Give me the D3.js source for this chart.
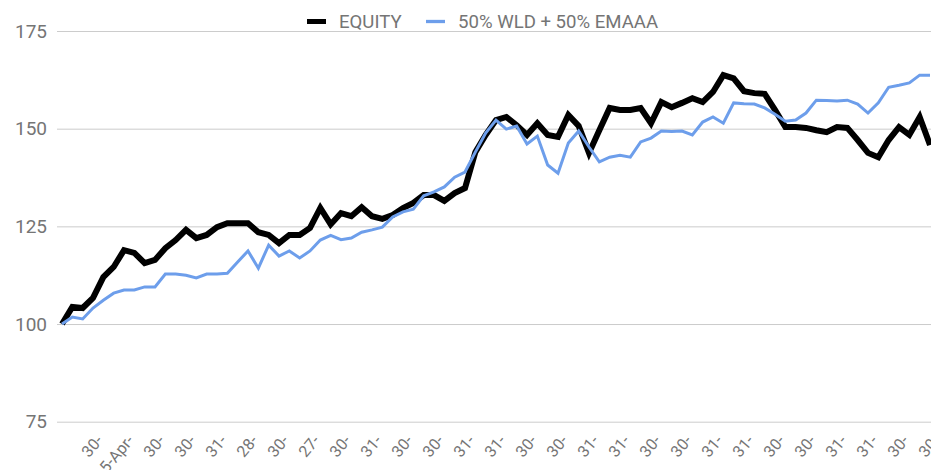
<!DOCTYPE html>
<html>
<head>
<meta charset="utf-8">
<script src="https://cdn.jsdelivr.net/npm/d3@7"></script>
<style>
  html, body { margin: 0; padding: 0; background: #fff; overflow: hidden; }
  svg { display: block; font-family: Roboto, "Noto Sans", Arial, sans-serif; }
</style>
</head>
<body>
<svg id="chart" width="931" height="470"></svg>
<script>
// Monthly index levels, both rebased to 100
const equity = [
  100, 104.4, 104.1, 106.7, 112, 114.6, 118.9, 118.2, 115.6, 116.4,
  119.4, 121.5, 124.1, 122, 122.8, 124.8, 125.8, 125.8, 125.8, 123.5,
  122.8, 120.7, 122.8, 122.8, 124.6, 129.7, 125.5, 128.4, 127.6, 129.9,
  127.6, 126.9, 127.9, 129.7, 131, 133, 133, 131.5, 133.5, 134.8,
  144, 148.4, 152.2, 153, 150.9, 148.4, 151.4, 148.4, 147.9, 153.5,
  150.7, 143.8, 149.6, 155.3, 154.8, 154.8, 155.3, 151.4, 156.8, 155.5,
  156.6, 157.8, 156.8, 159.4, 163.7, 162.9, 159.6, 159.1, 158.9, 154.8,
  150.4, 150.4, 150.2, 149.6, 149.1, 150.4, 150.2, 147.1, 143.8, 142.7,
  147.1, 150.4, 148.4, 153, 145.8
];
const benchmark = [
  100, 101.8, 101.3, 104.1, 106.1, 107.9, 108.7, 108.7, 109.5, 109.5,
  112.8, 112.8, 112.5, 111.8, 112.8, 112.8, 113, 115.9, 118.7, 114.3,
  120.2, 117.4, 118.7, 116.9, 118.7, 121.5, 122.7, 121.6, 122, 123.5,
  124.1, 124.8, 127.4, 128.7, 129.4, 132.8, 133.8, 135.1, 137.6, 138.9,
  144, 148.9, 152.2, 149.9, 150.7, 146.1, 148.1, 140.7, 138.6, 146.3,
  149.4, 145.3, 141.5, 142.7, 143.2, 142.7, 146.6, 147.6, 149.4, 149.3,
  149.4, 148.4, 151.7, 153, 151.4, 156.6, 156.4, 156.3, 155.3, 153.7,
  151.9, 152.2, 154, 157.3, 157.2, 157.1, 157.3, 156.3, 154, 156.6,
  160.6, 161.1, 161.7, 163.7, 163.7
];
const seriesNames = ["EQUITY", "50% WLD + 50% EMAAA"];
const seriesColors = ["#000000", "#6d9eeb"];
const seriesWidths = [6, 3];
const yTicks = [75, 100, 125, 150, 175];
// Every third month carries a category label
const tickLabels = [
  "30-", "5-Apr-", "30-", "30-", "31-", "28-", "30-", "27-", "30-", "31-",
  "30-", "30-", "31-", "31-", "30-", "30-", "31-", "31-", "30-", "30-",
  "31-", "31-", "30-", "30-", "31-", "31-", "30-", "30-"
];
const tickStep = 3;

const svg = d3.select("#chart");
const W = 931, H = 470;

const x = d3.scaleLinear().domain([0, equity.length - 1]).range([62, 930]);
const y = d3.scaleLinear().domain([75, 175]).range([421.7, 31]);

// Gridlines and value labels
const yAxis = d3.axisLeft(y).tickValues(yTicks).tickSize(-(W - 57)).tickPadding(10);
const gy = svg.append("g").attr("transform", "translate(57,0)").call(yAxis);
gy.select(".domain").remove();
gy.selectAll(".tick line").attr("stroke", "#cccccc").attr("stroke-width", 1);
gy.selectAll(".tick text")
  .attr("fill", "#757575")
  .attr("font-size", 19)
  .attr("font-family", "Roboto, sans-serif")
  .attr("x", -10);

// Slanted category labels
const tickIdx = tickLabels.map((_, k) => (k + 1) * tickStep);
const xAxis = d3.axisBottom(x).tickValues(tickIdx)
  .tickFormat((d, k) => tickLabels[k]).tickSize(0);
const gx = svg.append("g").attr("transform", "translate(0,428)").call(xAxis);
gx.select(".domain").remove();
gx.selectAll(".tick text")
  .attr("fill", "#757575")
  .attr("font-size", 16)
  .attr("font-family", "Roboto, sans-serif")
  .attr("text-anchor", "end")
  .attr("dy", null)
  .attr("y", 0)
  .attr("transform", "translate(10,13) rotate(-50)");

// Series lines
const line = d3.line().x((d, i) => x(i)).y(d => y(d));
[equity, benchmark].forEach((vals, s) => {
  svg.append("path")
    .datum(vals)
    .attr("fill", "none")
    .attr("stroke", seriesColors[s])
    .attr("stroke-width", seriesWidths[s])
    .attr("d", line);
});

// Legend
const legend = svg.append("g");
const legendX = [307, 426];
seriesNames.forEach((name, s) => {
  legend.append("line")
    .attr("x1", legendX[s]).attr("x2", legendX[s] + 19)
    .attr("y1", 21.5).attr("y2", 21.5)
    .attr("stroke", seriesColors[s])
    .attr("stroke-width", s === 0 ? 5 : 3.3);
  legend.append("text")
    .attr("x", legendX[s] + 32)
    .attr("y", 28.3)
    .attr("fill", "#757575")
    .attr("font-size", 18.6)
    .text(name);
});
</script>
</body>
</html>
